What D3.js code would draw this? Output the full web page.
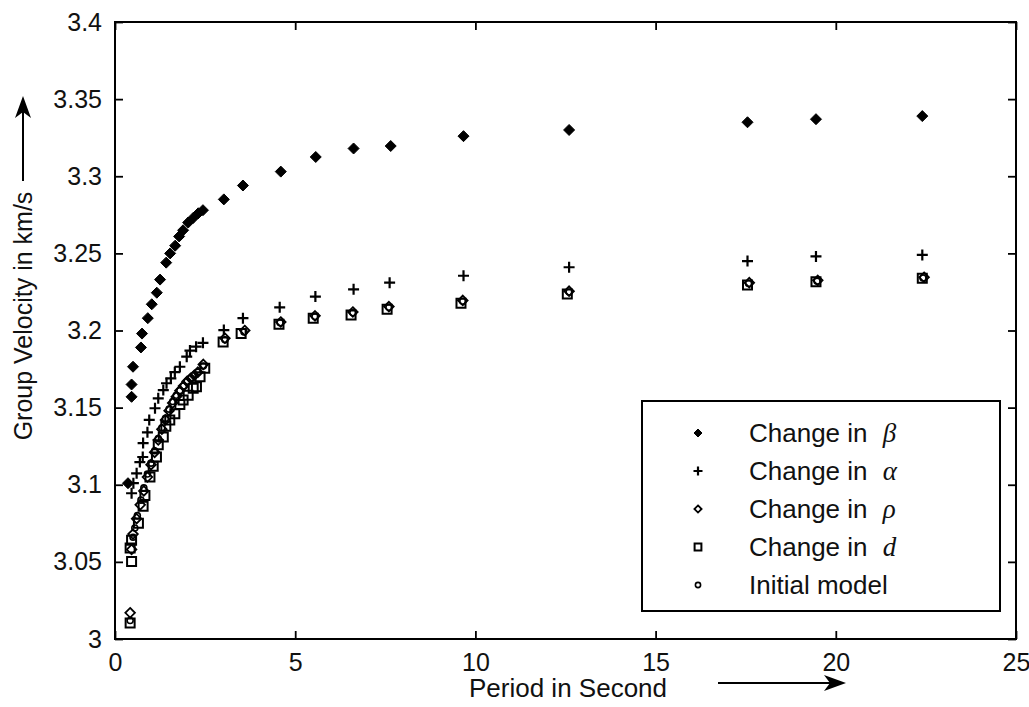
<!DOCTYPE html>
<html>
<head>
<meta charset="utf-8">
<script src="https://cdn.jsdelivr.net/npm/d3@7"></script>
<style>
  html, body { margin: 0; padding: 0; background: #fff; }
  svg { display: block; font-family: "Liberation Sans", Arial, Helvetica, sans-serif; }
</style>
</head>
<body>
<svg id="chart" width="1029" height="707"></svg>
<script>
// ---------- data ----------
const xTicks = [0, 5, 10, 15, 20, 25];
const xTickLabels = ["0", "5", "10", "15", "20", "25"];
const yTicks = [3, 3.05, 3.1, 3.15, 3.2, 3.25, 3.3, 3.35, 3.4];
const yTickLabels = ["3", "3.05", "3.1", "3.15", "3.2", "3.25", "3.3", "3.35", "3.4"];

// Change in beta (filled diamonds)
const betaT = [0.36, 0.46, 0.46, 0.5, 0.72, 0.75, 0.91, 1.02, 1.16, 1.25, 1.42, 1.53, 1.67, 1.78, 1.89, 2.03, 2.17, 2.31, 2.44,
               3.02, 3.55, 4.6, 5.57, 6.62, 7.65, 9.67, 12.6, 17.55, 19.45, 22.4];
const betaV = [3.101, 3.157, 3.165, 3.1765, 3.189, 3.198, 3.208, 3.217, 3.2245, 3.233, 3.244, 3.250, 3.255, 3.261, 3.265, 3.270, 3.273, 3.276, 3.278,
               3.285, 3.294, 3.303, 3.3125, 3.318, 3.3196, 3.326, 3.330, 3.335, 3.337, 3.339];

// Change in alpha (plus)
const alphaT = [0.46, 0.51, 0.6, 0.69, 0.77, 0.78, 0.9, 0.95, 1.11, 1.2, 1.34, 1.43, 1.55, 1.66, 1.8, 1.99, 2.08, 2.25, 2.44,
                3.02, 3.55, 4.57, 5.56, 6.62, 7.62, 9.67, 12.6, 17.55, 19.45, 22.4];
const alphaV = [3.0945, 3.101, 3.1074, 3.1147, 3.118, 3.127, 3.134, 3.142, 3.1496, 3.156, 3.1614, 3.1658, 3.169, 3.173, 3.1765, 3.183, 3.187, 3.1895, 3.192,
                3.2003, 3.208, 3.215, 3.222, 3.2267, 3.231, 3.2355, 3.241, 3.245, 3.248, 3.249];

// Change in rho (open diamonds)
const rhoT = [0.42, 0.46, 0.5, 0.6, 0.7, 0.8, 0.9, 1.0, 1.1, 1.2, 1.3, 1.4, 1.5, 1.6, 1.7, 1.8, 1.9, 2.0, 2.1, 2.2, 2.3, 2.45,
              3.05, 3.6, 4.6, 5.55, 6.6, 7.6, 9.65, 12.6, 17.6, 19.5, 22.45];
const rhoV = [3.017, 3.058, 3.068, 3.078, 3.087, 3.096, 3.105, 3.113, 3.121, 3.129, 3.136, 3.142, 3.148, 3.153, 3.157, 3.161, 3.164, 3.167, 3.169, 3.171, 3.173, 3.178,
              3.195, 3.2, 3.2055, 3.2095, 3.212, 3.2155, 3.2195, 3.2255, 3.231, 3.2325, 3.2345];

// Change in d (open squares)
const dT = [0.42, 0.46, 0.42, 0.46, 0.65, 0.78, 0.83, 0.97, 1.06, 1.15, 1.2, 1.34, 1.41, 1.52, 1.66, 1.8, 1.89, 2.03, 2.17, 2.26, 2.36, 2.49,
            3.0, 3.5, 4.55, 5.5, 6.55, 7.55, 9.6, 12.55, 17.55, 19.45, 22.4];
const dV = [3.0104, 3.0502, 3.059, 3.064, 3.075, 3.086, 3.093, 3.105, 3.112, 3.118, 3.126, 3.131, 3.138, 3.142, 3.146, 3.152, 3.155, 3.158, 3.1625, 3.1636, 3.170, 3.1755,
            3.1925, 3.198, 3.204, 3.208, 3.210, 3.2137, 3.2176, 3.2237, 3.2295, 3.2316, 3.2338];

// Initial model (small open circles)
const initT = [0.42, 0.5, 0.55, 0.62, 0.72, 0.8, 0.9, 1.0, 1.1, 1.2, 1.3, 1.4, 1.5, 1.6, 1.7, 1.8, 1.9, 2.0, 2.1, 2.2, 2.3, 2.45,
               3.05, 3.58, 4.58, 5.55, 6.6, 7.6, 9.65, 12.6, 17.58, 19.48, 22.42];
const initV = [3.012, 3.066, 3.072, 3.08, 3.09, 3.098, 3.107, 3.114, 3.122, 3.13, 3.137, 3.143, 3.149, 3.154, 3.158, 3.161, 3.164, 3.167, 3.169, 3.171, 3.173, 3.177,
               3.194, 3.199, 3.205, 3.209, 3.2115, 3.215, 3.219, 3.225, 3.2305, 3.232, 3.234];

const legendLabels = ["Change in ", "Change in ", "Change in ", "Change in ", "Initial model"];
const legendSymbols = ["β", "α", "ρ", "d", ""];

// ---------- layout ----------
const svg = d3.select("#chart");
const W = 1029, H = 707;
const L = 115, R = 1016, T = 22, B = 639;

const x = d3.scaleLinear().domain([0, 25]).range([L, R]);
const y = d3.scaleLinear().domain([3, 3.4]).range([B, T]);

svg.append("rect").attr("width", W).attr("height", H).attr("fill", "#fff");

// axes with inward ticks
const tk = 8;
const gL = svg.append("g").attr("transform", `translate(${L},0)`)
  .call(d3.axisLeft(y).tickValues(yTicks).tickFormat((d, i) => yTickLabels[i]).tickSizeInner(-tk).tickSizeOuter(0).tickPadding(13));
const gB = svg.append("g").attr("transform", `translate(0,${B})`)
  .call(d3.axisBottom(x).tickValues(xTicks).tickFormat((d, i) => xTickLabels[i]).tickSizeInner(-tk).tickSizeOuter(0).tickPadding(14));
const gR = svg.append("g").attr("transform", `translate(${R},0)`)
  .call(d3.axisRight(y).tickValues(yTicks).tickFormat("").tickSizeInner(-tk).tickSizeOuter(0));
const gT = svg.append("g").attr("transform", `translate(0,${T})`)
  .call(d3.axisTop(x).tickValues(xTicks).tickFormat("").tickSizeInner(-tk).tickSizeOuter(0));

[gL, gB, gR, gT].forEach(g => {
  g.select(".domain").remove();
  g.selectAll(".tick line").attr("stroke", "#000").attr("stroke-width", 1.8);
  g.selectAll(".tick text").attr("fill", "#111").style("font-size", "25px")
    .style("font-family", "'Liberation Sans', Arial, sans-serif");
});

svg.append("rect").attr("x", L).attr("y", T).attr("width", R - L).attr("height", B - T)
  .attr("fill", "none").attr("stroke", "#000").attr("stroke-width", 2);

// ---------- markers ----------
const diamondPath = s => `M0,${-s}L${s},0L0,${s}L${-s},0Z`;
const plusPath = s => `M${-s},0H${s}M0,${-s}V${s}`;

function drawSeries(ts, vs, kind, size) {
  const g = svg.append("g");
  const pts = ts.map((t, i) => [t, vs[i]]);
  const sel = g.selectAll("path").data(pts).enter().append("path")
    .attr("transform", d => `translate(${x(d[0])},${y(d[1])})`);
  styleMarker(sel, kind, size);
}
function styleMarker(sel, kind, size) {
  if (kind === "fdiamond") sel.attr("d", diamondPath(size)).attr("fill", "#000").attr("stroke", "#000").attr("stroke-width", 1);
  else if (kind === "plus") sel.attr("d", plusPath(size)).attr("fill", "none").attr("stroke", "#000").attr("stroke-width", 2.2);
  else if (kind === "odiamond") sel.attr("d", diamondPath(size)).attr("fill", "none").attr("stroke", "#000").attr("stroke-width", 1.8);
  else if (kind === "square") sel.attr("d", `M${-size},${-size}H${size}V${size}H${-size}Z`).attr("fill", "none").attr("stroke", "#000").attr("stroke-width", 2);
  else if (kind === "circle") sel.attr("d", d3.symbol(d3.symbolCircle, Math.PI * size * size)()).attr("fill", "none").attr("stroke", "#000").attr("stroke-width", 1.6);
}

drawSeries(dT, dV, "square", 4.5);
drawSeries(rhoT, rhoV, "odiamond", 4.8);
drawSeries(initT, initV, "circle", 3);
drawSeries(alphaT, alphaV, "plus", 5.5);
drawSeries(betaT, betaV, "fdiamond", 5.5);

// ---------- legend ----------
const lg = svg.append("g");
lg.append("rect").attr("x", 642).attr("y", 401).attr("width", 358).attr("height", 210)
  .attr("fill", "#fff").attr("stroke", "#000").attr("stroke-width", 2);
const legendKinds = ["fdiamond", "plus", "odiamond", "square", "circle"];
const legendSizes = [4, 4.5, 3.6, 3.4, 2.6];
const rowY = [433, 471, 509, 547, 585];
legendKinds.forEach((k, i) => {
  const m = lg.append("path").attr("transform", `translate(698,${rowY[i]})`);
  styleMarker(m, k, legendSizes[i]);
  const t = lg.append("text").attr("x", 749).attr("y", rowY[i] + 9)
    .style("font-size", "26px").attr("fill", "#111").text(legendLabels[i]);
  if (legendSymbols[i]) {
    t.append("tspan").attr("dx", 8).style("font-family", "'Liberation Serif', 'DejaVu Serif', serif")
      .style("font-style", "italic").style("font-size", "27px").text(legendSymbols[i]);
  }
});

// ---------- axis titles ----------
svg.append("text").attr("transform", "translate(32,316) rotate(-90)")
  .attr("text-anchor", "middle").style("font-size", "25px").attr("fill", "#111")
  .text("Group Velocity in km/s");
// y arrow
svg.append("line").attr("x1", 23).attr("x2", 23).attr("y1", 181).attr("y2", 110)
  .attr("stroke", "#000").attr("stroke-width", 2);
svg.append("path").attr("d", "M23,96 L31,118 L23,112 L15,118 Z").attr("fill", "#000");

svg.append("text").attr("x", 568).attr("y", 697).attr("text-anchor", "middle")
  .style("font-size", "26px").attr("fill", "#111").text("Period in Second");
// x arrow
svg.append("line").attr("x1", 718).attr("x2", 830).attr("y1", 683).attr("y2", 683)
  .attr("stroke", "#000").attr("stroke-width", 2);
svg.append("path").attr("d", "M846,683 L824,675 L830,683 L824,691 Z").attr("fill", "#000");
</script>
</body>
</html>
